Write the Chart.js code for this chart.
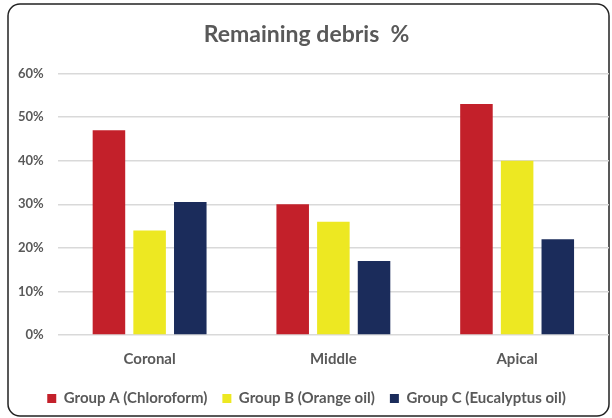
<!DOCTYPE html>
<html>
<head>
<meta charset="utf-8">
<script src="https://cdn.jsdelivr.net/npm/chart.js@4"></script>
<style>
  html, body { margin: 0; padding: 0; background: #fff; }
  #wrap { width: 612px; height: 418px; }
</style>
</head>
<body>
<div id="wrap"><canvas id="graficoDebris"></canvas></div>
<script>
// Dados
const categorias = ["Coronal", "Middle", "Apical"];
const grupoA = [47, 30, 53];   // Chloroform
const grupoB = [24, 26, 40];   // Orange oil
const grupoC = [30.5, 17, 22]; // Eucalyptus oil
const ticksY = [0, 10, 20, 30, 40, 50, 60];

// moldura arredondada
const moldura = {
  id: "moldura",
  beforeDraw(chart) {
    const c = chart.ctx;
    c.save();
    c.fillStyle = "#fff";
    c.fillRect(0, 0, chart.width, chart.height);
    c.beginPath();
    c.roundRect(8, 4, 601, 412, 12);
    c.strokeStyle = "#222";
    c.lineWidth = 1.5;
    c.stroke();
    c.restore();
  },
};

const fonte = { family: "Lato", size: 15, weight: "bold" };

const ctx = document.getElementById("graficoDebris").getContext("2d");
new Chart(ctx, {
  type: "bar",
  data: {
    labels: categorias,
    datasets: [
      { label: "Group A (Chloroform)", data: grupoA, backgroundColor: "#c3202a" },
      { label: "Group B (Orange oil)", data: grupoB, backgroundColor: "#ede822" },
      { label: "Group C (Eucalyptus oil)", data: grupoC, backgroundColor: "#1b2c5b" },
    ],
  },
  options: {
    responsive: true,
    maintainAspectRatio: false,
    animation: false,
    devicePixelRatio: 1,
    datasets: { bar: { categoryPercentage: 0.664, barPercentage: 0.8 } },
    layout: { padding: { left: 4, right: 3, top: 17, bottom: 2 } },
    plugins: {
      title: {
        display: true,
        text: "Remaining debris  %",
        color: "#595959",
        font: { family: "Lato", size: 23, weight: "bold" },
        padding: { top: 4, bottom: 25 },
      },
      legend: {
        position: "bottom",
        labels: {
          boxWidth: 9,
          boxHeight: 9,
          padding: 15,
          color: "#595959",
          font: fonte,
        },
      },
      tooltip: { enabled: false },
    },
    scales: {
      y: {
        min: 0,
        max: 60,
        afterBuildTicks: (axis) => { axis.ticks = ticksY.map((v) => ({ value: v })); },
        grid: { color: "#d9d9d9", lineWidth: 1.5, drawTicks: false },
        border: { display: false },
        ticks: {
          padding: 14,
          color: "#595959",
          font: { family: "Lato", size: 13, weight: "bold" },
          callback: (v) => v + "%",
        },
      },
      x: {
        grid: { display: false },
        border: { display: false },
        afterFit: (axis) => { axis.height += 1; },
        ticks: {
          padding: 7,
          color: "#595959",
          font: fonte,
        },
      },
    },
  },
  plugins: [moldura],
});
</script>
</body>
</html>
